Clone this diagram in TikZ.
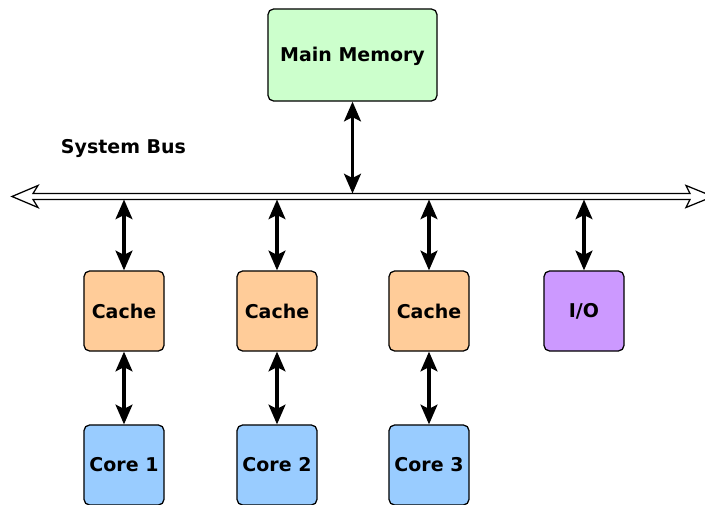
\documentclass[tikz,border=0pt]{standalone}
\usepackage{fontspec}
\setmainfont{DejaVu Sans}
\usetikzlibrary{arrows.meta,positioning}
\tikzset{>={Stealth[length=14pt,width=12pt,inset=3pt]}}
\definecolor{memgreen}{HTML}{CCFFCC}
\definecolor{cacheorange}{HTML}{FFCC99}
\definecolor{coreblue}{HTML}{99CCFF}
\definecolor{iopurple}{HTML}{CC99FF}

\begin{document}
\begin{tikzpicture}[x=0.025cm,y=-0.025cm,
  unit/.style={draw,line width=0.9pt,rounded corners=4pt,minimum width=2cm,minimum height=2cm,inner sep=0pt,font=\fontsize{13.5}{16}\selectfont\bfseries},
  link/.style={<->,line width=2.2pt}]
\useasboundingbox (0,0) rectangle (705,505);

% system bus
\draw[line width=0.9pt,fill=white] (12,196.5) -- (38,185.5) -- (33,193.5) -- (690,193.5) -- (686,185.5) -- (713,196.5)
  -- (686,207.5) -- (690,199.5) -- (33,199.5) -- (38,207.5) -- cycle;
\node[anchor=west,font=\fontsize{13.5}{16}\selectfont\bfseries] (buslabel) at (56,149) {System Bus};

\node[unit,fill=memgreen,minimum width=4.225cm,minimum height=2.3cm,text height=9.5pt,text depth=0pt] (mem) at (352.5,55) {Main Memory};
\coordinate (bmem) at (352.5,193.5);
\draw[link] (mem.south) -- (bmem);

\foreach \i/\x in {1/124,2/277,3/429} {
  \node[unit,fill=cacheorange] (cache\i) at (\x,311) {Cache};
  \node[unit,fill=coreblue] (core\i) at (\x,465) {Core \i};
  \coordinate (b\i) at (\x,199.5);
  \draw[link] (b\i) -- (cache\i.north);
  \draw[link] (cache\i.south) -- (core\i.north);
};

\node[unit,fill=iopurple] (io) at (584,311) {I/O};
\coordinate (bio) at (584,199.5);
\draw[link] (bio) -- (io.north);
\end{tikzpicture}
\end{document}
